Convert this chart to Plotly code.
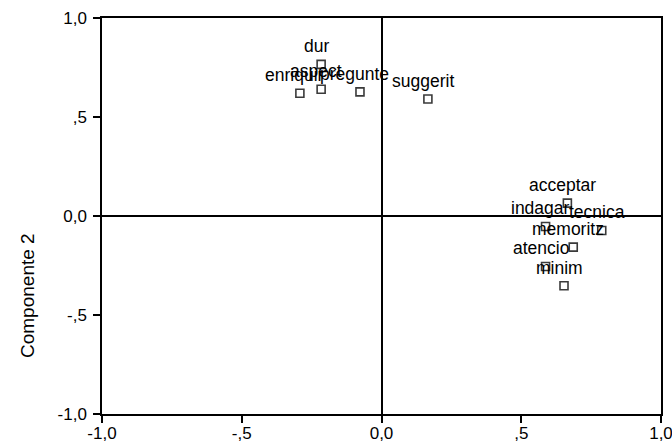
import plotly.graph_objects as go

# Component loadings
labels = ["dur", "aspect", "enriquir", "pregunte", "suggerit",
          "acceptar", "indagar", "tecnica", "memoritz", "atencio", "minim"]
comp1 = [-0.216, -0.216, -0.292, -0.077, 0.166,
         0.665, 0.587, 0.788, 0.686, 0.587, 0.653]
comp2 = [0.766, 0.640, 0.620, 0.627, 0.591,
         0.065, -0.053, -0.073, -0.157, -0.255, -0.352]

tick_vals = [-1.0, -0.5, 0.0, 0.5, 1.0]
tick_text = ["-1,0", "-,5", "0,0", ",5", "1,0"]
y_title = "Componente 2"

FONT = "Liberation Sans, Arial, sans-serif"

fig = go.Figure()
fig.add_trace(go.Scatter(
    x=comp1, y=comp2, mode="markers",
    marker=dict(symbol="square-open", size=8, color="#3a3a3a",
                line=dict(width=1.6, color="#3a3a3a")),
    hoverinfo="text", text=labels, showlegend=False,
))

annotations = []
for lab, xv, yv in zip(labels, comp1, comp2):
    annotations.append(dict(
        x=xv, y=yv, xref="x", yref="y", text=lab, showarrow=False,
        xshift=-5, yshift=18, font=dict(family=FONT, size=17.5, color="#000"),
        xanchor="center", yanchor="middle",
    ))
annotations.append(dict(
    x=-0.132, y=0.2985, xref="paper", yref="paper", text=y_title,
    showarrow=False, textangle=-90, xanchor="center", yanchor="middle",
    font=dict(family=FONT, size=19, color="#000"),
))

axis_common = dict(
    range=[-1, 1], tickvals=tick_vals, ticktext=tick_text,
    showgrid=False, zeroline=True, zerolinecolor="#000", zerolinewidth=1.5,
    showline=True, linecolor="#000", linewidth=1.5, mirror=True,
    ticks="outside", ticklen=7, tickwidth=1.5, tickcolor="#000",
    tickfont=dict(family=FONT, size=17, color="#000"),
    automargin=False, fixedrange=True, ticklabeloverflow="allow",
)

fig.update_layout(
    width=672, height=443,
    margin=dict(l=102, r=11, t=18, b=29),
    paper_bgcolor="white", plot_bgcolor="white",
    xaxis=dict(**axis_common, ticklabelstandoff=-4),
    yaxis=dict(**axis_common, ticklabelstandoff=3),
    annotations=annotations,
    font=dict(family=FONT, color="#000"),
)

fig.write_html(
    "out.html",
    config={"displayModeBar": False},
    post_script="document.body.style.margin='0';document.body.style.overflow='hidden';",
)
